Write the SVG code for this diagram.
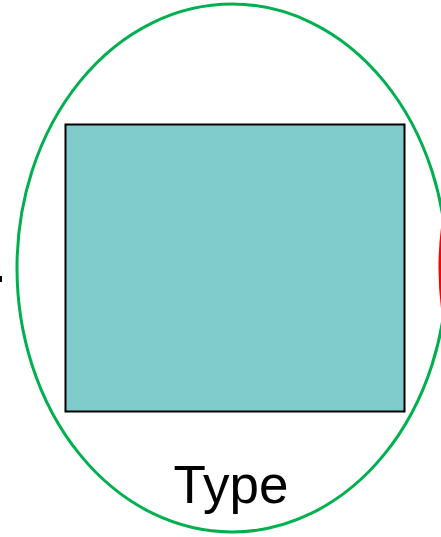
<svg xmlns="http://www.w3.org/2000/svg" width="441" height="537" viewBox="0 0 441 537">
<style>
.lbl{font-family:"Liberation Sans",Arial,sans-serif;fill:#000}
</style>
<rect width="441" height="537" fill="#fff"/>
<g id="connectors">
<line x1="0" y1="279" x2="2" y2="279" stroke="#000" stroke-width="6"/>
</g>
<g id="other">
<ellipse cx="655" cy="268" rx="215" ry="264" fill="none" stroke="#ff0000" stroke-width="3"/>
</g>
<g id="type">
<ellipse cx="232" cy="268" rx="215" ry="264" fill="none" stroke="#00b050" stroke-width="3"/>
<rect x="65.5" y="124.5" width="339" height="287" fill="#80cbcb" stroke="#000" stroke-width="2"/>
<text class="lbl" x="231" y="503" font-size="53" text-anchor="middle">Type</text>
</g>
</svg>
